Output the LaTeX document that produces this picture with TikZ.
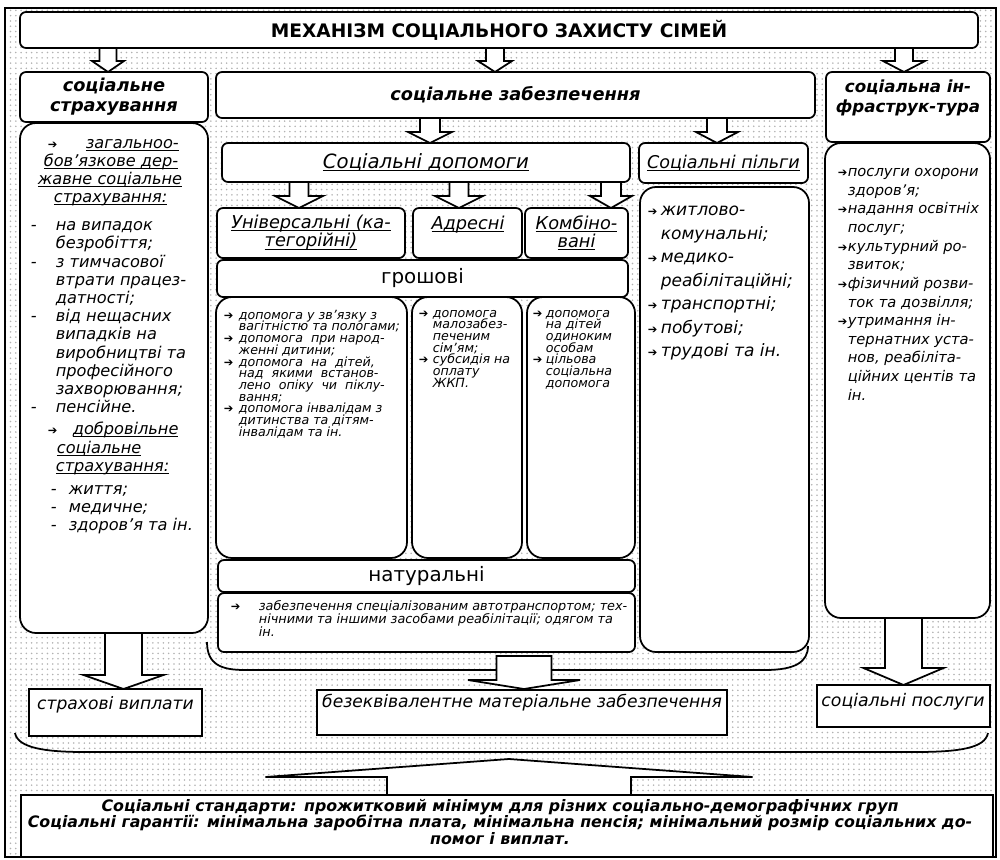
\documentclass[tikz,border=0pt]{standalone}
\usepackage{fontspec}
\setmainfont{DejaVu Sans}
\newcommand\oblq{\itshape}
\newfontfamily\arrfont{DejaVu Sans}
\usetikzlibrary{patterns,calc}
\newdimen\pxu \pxu=0.02cm
\newcommand\AR{{\arrfont\upshape\fontsize{6.5}{6.5}\selectfont ➔}}
\newcommand\fs[2]{\fontsize{#1}{#2}\selectfont}
\newcommand\lp[2]{\makebox[0pt][l]{\hspace*{#1\pxu}#2}}
\newcommand\undl[1]{\setbox0=\hbox{#1}\rlap{\rule[-1.4pt]{\wd0}{0.5pt}}\box0}
\tikzset{
 box/.style={draw, fill=white, line width=1pt, rounded corners=0.12cm, inner sep=0pt, outer sep=0pt, align=center},
 bigr/.style={rounded corners=0.32cm},
 sharpbox/.style={sharp corners},
 txt/.style={inner sep=0pt, outer sep=0pt, align=left, anchor=north west},
 ctxt/.style={inner sep=0pt, outer sep=0pt, align=center},
 blk/.style={draw, fill=white, line width=1pt, line join=miter},
 brc/.style={draw, line width=1pt},
 hdr/.style={font={\oblq\bfseries\fs{10.1}{11.4}}},
 und/.style={font={\oblq\fs{10.1}{10.3}}},
}
\newcommand\bx[7][]{\node[box,#1,minimum width={(#5-#3)*0.02cm},minimum height={(#6-#4)*0.02cm}] (#2) at ({(#3+#5)/2},{(#4+#6)/2}) {#7};}
\newcommand\barr[6]{\draw[blk] ({#1-#5},#2) -- ({#1-#5},#3) -- ({#1-#6},#3) -- (#1,#4) -- ({#1+#6},#3) -- ({#1+#5},#3) -- ({#1+#5},#2);}
\begin{document}
\lineskiplimit=-100pt
\begin{tikzpicture}[x=0.02cm,y=-0.02cm]
\useasboundingbox (0,0) rectangle (1000,859);
\fill[pattern=dots,pattern color=black!30] (5,8) rectangle (996,857);
\draw[line width=1.2pt] (5,8) rectangle (996,857);
% braces
\draw[brc] (207,642) .. controls (207,665) and (222,670) .. (245,670) -- (765,670) .. controls (795,670) and (808,662) .. (808,646);
\draw[brc] (15,733) .. controls (18,748) and (45,752) .. (85,752) -- (915,752) .. controls (960,752) and (985,748) .. (988,733);
% block arrows
\barr{108}{48}{61}{72}{8.5}{16}
\barr{495}{48}{61}{72}{9}{17}
\barr{904}{48}{61}{72}{9}{21}
\barr{430}{118}{132}{143}{10}{22}
\barr{717}{118}{132}{143}{10}{21}
\barr{299}{182}{196}{208}{9.5}{24}
\barr{459}{182}{196}{208}{9.5}{24}
\barr{611}{182}{196}{208}{10}{21}
\barr{123.5}{633}{675}{689}{18.5}{40}
\draw[blk] (496.5,656) -- (496.5,680) -- (468,680) -- (524,689) -- (580,680) -- (551.5,680) -- (551.5,656) -- cycle;
\barr{903.5}{618}{668}{685}{18.5}{40}
\barr{509}{795}{777}{759}{122}{243.5}
% boxes
\bx[font={\bfseries\fs{10.6}{12}}]{title}{20}{12}{978}{48}{МЕХАНІЗМ СОЦІАЛЬНОГО ЗАХИСТУ СІМЕЙ}
\bx[hdr]{insh}{20}{72}{208}{122}{соціальне\\страхування}
\bx[hdr]{sech}{216}{72}{815}{118}{соціальне забезпечення}
\bx[hdr]{infh}{826}{72}{990}{142}{}
\node[ctxt,font={\oblq\bfseries\fs{9.5}{11}}] (infhT) at (908,98) {соціальна ін-\\фраструк-тура};
\bx[bigr]{insb}{20}{123}{208}{633}{}
\bx[font={\oblq\fs{11.2}{12}}]{sd}{222}{143}{630}{182}{\undl{Соціальні допомоги}}
\bx[und]{univ}{217}{208}{405}{258}{\undl{Універсальні (ка-}\\\undl{тегорійні)}}
\bx{addr}{413}{208}{522}{258}{}
\node[ctxt,und] (addrT) at (468,225) {\undl{Адресні}};
\bx[und]{comb}{525}{208}{628}{258}{\undl{Комбіно-}\\\undl{вані}}
\bx[font={\fs{11.3}{12}}]{grosh}{217}{260}{628}{297}{грошові}
\bx[bigr]{d1}{216}{297}{407}{558}{}
\bx[bigr]{d2}{412}{297}{522}{558}{}
\bx[bigr]{d3}{527}{297}{635}{558}{}
\bx[font={\fs{11.3}{12}}]{nat}{218}{560}{635}{592}{натуральні}
\bx{natd}{218}{593}{635}{652}{}
\bx[font={\oblq\fs{10}{12}}]{pil}{639}{143}{808}{183}{\undl{Соціальні пільги}}
\bx[bigr]{pild}{640}{187}{809}{652}{}
\bx[bigr]{infd}{825}{143}{990}{618}{}
\bx[sharpbox]{sv}{29}{689}{202}{736}{}
\node[ctxt,font={\oblq\fs{9.75}{12}}] (svT) at (115.5,705) {страхові виплати};
\bx[sharpbox]{bmz}{317}{690}{727}{735}{}
\node[ctxt,font={\oblq\fs{9.75}{12}}] (bmzT) at (522,703) {безеквівалентне матеріальне забезпечення};
\bx[sharpbox]{sp}{817}{685}{990}{727}{}
\node[ctxt,font={\oblq\fs{9.85}{12}}] (spT) at (903,702) {соціальні послуги};
\bx[sharpbox]{bot}{21}{795}{993}{857}{}
\node[ctxt,font={\oblq\bfseries\fs{9}{9.2}}] (botT) at (500,822) {Соціальні стандарти: прожитковий мінімум для різних соціально-демографічних груп\\Соціальні гарантії: мінімальна заробітна плата, мінімальна пенсія; мінімальний розмір соціальних до-\\помог і виплат.};
% left column text
\node[txt,font={\oblq\fs{9.2}{10.35}}] (insT) at (20,139) {%
\lp{27}{\AR}\lp{65}{\undl{загальноо-}}\\
\lp{23}{\undl{бов’язкове дер-}}\\
\lp{17}{\undl{жавне соціальне}}\\
\lp{33}{\undl{страхування:}}\\[10\pxu]
\lp{10}{-}\lp{35}{на випадок}\\
\lp{35}{безробіття;}\\
\lp{10}{-}\lp{35}{з тимчасової}\\
\lp{35}{втрати працез-}\\
\lp{35}{датності;}\\
\lp{10}{-}\lp{35}{від нещасних}\\
\lp{35}{випадків на}\\
\lp{35}{виробництві та}\\
\lp{35}{професійного}\\
\lp{35}{захворювання;}\\
\lp{10}{-}\lp{35}{пенсійне.}\\[4\pxu]
\lp{27}{\AR}\lp{52}{\undl{добровільне}}\\
\lp{36}{\undl{соціальне}}\\
\lp{35}{\undl{страхування:}}\\[5\pxu]
\lp{30}{-}\lp{48}{життя;}\\
\lp{30}{-}\lp{48}{медичне;}\\
\lp{30}{-}\lp{48}{здоров’я та ін.}};
% d1..d3
\node[txt,font={\oblq\fs{7.2}{6.66}}] (d1T) at (216,310) {%
\lp{7}{\AR}\lp{22}{допомога у зв’язку з}\\
\lp{22}{вагітністю та пологами;}\\
\lp{7}{\AR}\lp{22}{допомога\ \ при народ-}\\
\lp{22}{женні дитини;}\\
\lp{7}{\AR}\lp{22}{допомога\ \ на\ \ дітей,}\\
\lp{22}{над\ \ якими\ \ встанов-}\\
\lp{22}{лено\ \ опіку\ \ чи\ \ піклу-}\\
\lp{22}{вання;}\\
\lp{7}{\AR}\lp{22}{допомога інвалідам з}\\
\lp{22}{дитинства та дітям-}\\
\lp{22}{інвалідам та ін.}};
\node[txt,font={\oblq\fs{7.2}{6.66}}] (d2T) at (412,310) {%
\lp{6}{\AR}\lp{20}{допомога}\\
\lp{20}{малозабез-}\\
\lp{20}{печеним}\\
\lp{20}{сім’ям;}\\
\lp{6}{\AR}\lp{20}{субсидія на}\\
\lp{20}{оплату}\\
\lp{20}{ЖКП.}};
\node[txt,font={\oblq\fs{7.2}{6.66}}] (d3T) at (527,310) {%
\lp{5}{\AR}\lp{18}{допомога}\\
\lp{18}{на дітей}\\
\lp{18}{одиноким}\\
\lp{18}{особам}\\
\lp{5}{\AR}\lp{18}{цільова}\\
\lp{18}{соціальна}\\
\lp{18}{допомога}};
\node[txt,font={\oblq\fs{7.3}{7.4}}] (natT) at (218,601) {%
\lp{12}{\AR}\lp{40}{забезпечення спеціалізованим автотранспортом; тех-}\\
\lp{40}{нічними та іншими засобами реабілітації; одягом та}\\
\lp{40}{ін.}};
\node[txt,font={\oblq\fs{9.7}{13.37}}] (pilT) at (640,206) {%
\lp{7}{\AR}\lp{20}{житлово-}\\
\lp{20}{комунальні;}\\
\lp{7}{\AR}\lp{20}{медико-}\\
\lp{20}{реабілітаційні;}\\
\lp{7}{\AR}\lp{20}{транспортні;}\\
\lp{7}{\AR}\lp{20}{побутові;}\\
\lp{7}{\AR}\lp{20}{трудові та ін.}};
\node[txt,font={\oblq\fs{8.35}{10.6}}] (infT) at (825,168.5) {%
\lp{12}{\AR}\lp{22}{послуги охорони}\\
\lp{22}{здоров’я;}\\
\lp{12}{\AR}\lp{22}{надання освітніх}\\
\lp{22}{послуг;}\\
\lp{12}{\AR}\lp{22}{культурний ро-}\\
\lp{22}{звиток;}\\
\lp{12}{\AR}\lp{22}{фізичний розви-}\\
\lp{22}{ток та дозвілля;}\\
\lp{12}{\AR}\lp{22}{утримання ін-}\\
\lp{22}{тернатних уста-}\\
\lp{22}{нов, реабіліта-}\\
\lp{22}{ційних центів та}\\
\lp{22}{ін.}};
\end{tikzpicture}
\end{document}
